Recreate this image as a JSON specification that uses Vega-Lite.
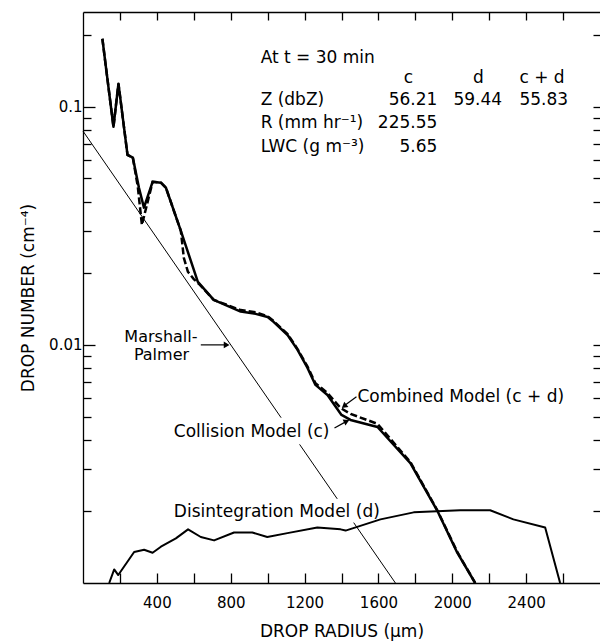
{
  "$schema": "https://vega.github.io/schema/vega-lite/v6.json",
  "width": 517,
  "height": 571,
  "autosize": {"type": "none"},
  "padding": {"left": 83, "top": 12, "right": 0, "bottom": 59},
  "background": "white",
  "config": {
    "view": {"stroke": null},
    "font": "DejaVu Sans",
    "axis": {
      "grid": false,
      "domainColor": "black",
      "tickColor": "black",
      "labelColor": "black",
      "titleColor": "black",
      "labelFont": "DejaVu Sans",
      "titleFont": "DejaVu Sans",
      "titleFontWeight": "normal",
      "labelFontSize": 15,
      "titleFontSize": 17,
      "domainWidth": 1.3,
      "tickWidth": 1.3
    }
  },
  "datasets": {
    "curves": [
      {"series": "MP", "seg": 1, "r": 0, "n": 0.079},
      {"series": "MP", "seg": 1, "r": 1073, "n": 0.004945},
      {"series": "MP", "seg": 2, "r": 1173, "n": 0.003821},
      {"series": "MP", "seg": 2, "r": 1377, "n": 0.002256},
      {"series": "MP", "seg": 3, "r": 1466, "n": 0.001793},
      {"series": "MP", "seg": 3, "r": 1692, "n": 0.001},

      {"series": "c", "seg": 1, "r": 105, "n": 0.193},
      {"series": "c", "seg": 1, "r": 124, "n": 0.147},
      {"series": "c", "seg": 1, "r": 165, "n": 0.0824},
      {"series": "c", "seg": 1, "r": 192, "n": 0.125},
      {"series": "c", "seg": 1, "r": 241, "n": 0.0628},
      {"series": "c", "seg": 1, "r": 270, "n": 0.0611},
      {"series": "c", "seg": 1, "r": 303, "n": 0.0457},
      {"series": "c", "seg": 1, "r": 330, "n": 0.0377},
      {"series": "c", "seg": 1, "r": 377, "n": 0.0484},
      {"series": "c", "seg": 1, "r": 422, "n": 0.048},
      {"series": "c", "seg": 1, "r": 449, "n": 0.0457},
      {"series": "c", "seg": 1, "r": 530, "n": 0.0301},
      {"series": "c", "seg": 1, "r": 622, "n": 0.0184},
      {"series": "c", "seg": 1, "r": 708, "n": 0.01545},
      {"series": "c", "seg": 1, "r": 854, "n": 0.0138},
      {"series": "c", "seg": 1, "r": 935, "n": 0.0135},
      {"series": "c", "seg": 1, "r": 1000, "n": 0.0131},
      {"series": "c", "seg": 1, "r": 1032, "n": 0.0125},
      {"series": "c", "seg": 1, "r": 1108, "n": 0.011},
      {"series": "c", "seg": 1, "r": 1162, "n": 0.00953},
      {"series": "c", "seg": 1, "r": 1216, "n": 0.008},
      {"series": "c", "seg": 1, "r": 1259, "n": 0.00679},
      {"series": "c", "seg": 1, "r": 1324, "n": 0.00616},
      {"series": "c", "seg": 1, "r": 1400, "n": 0.00508},
      {"series": "c", "seg": 1, "r": 1449, "n": 0.00484},
      {"series": "c", "seg": 1, "r": 1595, "n": 0.00452},
      {"series": "c", "seg": 1, "r": 1773, "n": 0.00319},
      {"series": "c", "seg": 1, "r": 1919, "n": 0.00201},
      {"series": "c", "seg": 1, "r": 2027, "n": 0.00134},
      {"series": "c", "seg": 1, "r": 2124, "n": 0.001},

      {"series": "cd", "seg": 1, "r": 105, "n": 0.193},
      {"series": "cd", "seg": 1, "r": 124, "n": 0.147},
      {"series": "cd", "seg": 1, "r": 165, "n": 0.0824},
      {"series": "cd", "seg": 1, "r": 192, "n": 0.125},
      {"series": "cd", "seg": 1, "r": 241, "n": 0.0628},
      {"series": "cd", "seg": 1, "r": 270, "n": 0.0611},
      {"series": "cd", "seg": 1, "r": 297, "n": 0.046},
      {"series": "cd", "seg": 1, "r": 319, "n": 0.0319},
      {"series": "cd", "seg": 1, "r": 377, "n": 0.0484},
      {"series": "cd", "seg": 1, "r": 422, "n": 0.048},
      {"series": "cd", "seg": 1, "r": 449, "n": 0.0457},
      {"series": "cd", "seg": 1, "r": 530, "n": 0.0301},
      {"series": "cd", "seg": 1, "r": 546, "n": 0.0232},
      {"series": "cd", "seg": 1, "r": 568, "n": 0.0203},
      {"series": "cd", "seg": 1, "r": 600, "n": 0.0189},
      {"series": "cd", "seg": 1, "r": 632, "n": 0.0179},
      {"series": "cd", "seg": 1, "r": 708, "n": 0.01545},
      {"series": "cd", "seg": 1, "r": 854, "n": 0.014},
      {"series": "cd", "seg": 1, "r": 935, "n": 0.0137},
      {"series": "cd", "seg": 1, "r": 1000, "n": 0.0132},
      {"series": "cd", "seg": 1, "r": 1032, "n": 0.0126},
      {"series": "cd", "seg": 1, "r": 1108, "n": 0.0111},
      {"series": "cd", "seg": 1, "r": 1162, "n": 0.0096},
      {"series": "cd", "seg": 1, "r": 1216, "n": 0.0081},
      {"series": "cd", "seg": 1, "r": 1259, "n": 0.0069},
      {"series": "cd", "seg": 1, "r": 1324, "n": 0.00628},
      {"series": "cd", "seg": 1, "r": 1395, "n": 0.00543},
      {"series": "cd", "seg": 1, "r": 1449, "n": 0.00513},
      {"series": "cd", "seg": 1, "r": 1595, "n": 0.00466},
      {"series": "cd", "seg": 1, "r": 1773, "n": 0.00322},
      {"series": "cd", "seg": 1, "r": 1919, "n": 0.00202},
      {"series": "cd", "seg": 1, "r": 2027, "n": 0.00135},
      {"series": "cd", "seg": 1, "r": 2124, "n": 0.001},

      {"series": "d", "seg": 1, "r": 142, "n": 0.001},
      {"series": "d", "seg": 1, "r": 169, "n": 0.00114},
      {"series": "d", "seg": 1, "r": 191, "n": 0.00108},
      {"series": "d", "seg": 1, "r": 277, "n": 0.00135},
      {"series": "d", "seg": 1, "r": 331, "n": 0.00138},
      {"series": "d", "seg": 1, "r": 377, "n": 0.00134},
      {"series": "d", "seg": 1, "r": 422, "n": 0.00142},
      {"series": "d", "seg": 1, "r": 503, "n": 0.00154},
      {"series": "d", "seg": 1, "r": 569, "n": 0.00168},
      {"series": "d", "seg": 1, "r": 638, "n": 0.00156},
      {"series": "d", "seg": 1, "r": 710, "n": 0.00151},
      {"series": "d", "seg": 1, "r": 818, "n": 0.00163},
      {"series": "d", "seg": 1, "r": 917, "n": 0.00163},
      {"series": "d", "seg": 1, "r": 998, "n": 0.00156},
      {"series": "d", "seg": 1, "r": 1107, "n": 0.00162},
      {"series": "d", "seg": 1, "r": 1269, "n": 0.00171},
      {"series": "d", "seg": 1, "r": 1395, "n": 0.00168},
      {"series": "d", "seg": 1, "r": 1422, "n": 0.00166},
      {"series": "d", "seg": 1, "r": 1611, "n": 0.00185},
      {"series": "d", "seg": 1, "r": 1791, "n": 0.00198},
      {"series": "d", "seg": 1, "r": 2043, "n": 0.00202},
      {"series": "d", "seg": 1, "r": 2205, "n": 0.00202},
      {"series": "d", "seg": 1, "r": 2331, "n": 0.00185},
      {"series": "d", "seg": 1, "r": 2503, "n": 0.00171},
      {"series": "d", "seg": 1, "r": 2584, "n": 0.001},

      {"series": "lead", "seg": 1, "r": 638, "n": 0.01},
      {"series": "lead", "seg": 1, "r": 775, "n": 0.01},
      {"series": "lead", "seg": 2, "r": 1481, "n": 0.00605},
      {"series": "lead", "seg": 2, "r": 1422, "n": 0.0056},
      {"series": "lead", "seg": 3, "r": 1362, "n": 0.00448},
      {"series": "lead", "seg": 3, "r": 1422, "n": 0.00475}
    ],
    "heads": [
      {"id": "mp", "r": 778, "n": 0.01},
      {"id": "cd", "r": 1414, "n": 0.00553},
      {"id": "c", "r": 1428, "n": 0.00478}
    ],
    "texts": [
      {"pos": "left", "label": "At t = 30 min", "r": 962, "n": 0.1607},
      {"pos": "left", "label": "Z (dbZ)", "r": 962, "n": 0.107},
      {"pos": "left", "label": "R (mm hr⁻¹)", "r": 962, "n": 0.0857},
      {"pos": "left", "label": "LWC (g m⁻³)", "r": 962, "n": 0.0679},
      {"pos": "right", "label": "56.21", "r": 1919, "n": 0.107},
      {"pos": "right", "label": "59.44", "r": 2270, "n": 0.107},
      {"pos": "right", "label": "55.83", "r": 2627, "n": 0.107},
      {"pos": "right", "label": "225.55", "r": 1919, "n": 0.0857},
      {"pos": "right", "label": "5.65", "r": 1919, "n": 0.0679},
      {"pos": "center", "label": "c", "r": 1762, "n": 0.1324},
      {"pos": "center", "label": "d", "r": 2141, "n": 0.1324},
      {"pos": "center", "label": "c + d", "r": 2486, "n": 0.1324}
    ],
    "notes": [
      {"pos": "left", "label": "Collision Model (c)", "r": 492, "n": 0.00431},
      {"pos": "left", "label": "Combined Model (c + d)", "r": 1486, "n": 0.00605},
      {"pos": "left", "label": "Disintegration Model (d)", "r": 492, "n": 0.001987},
      {"pos": "center", "label": "Marshall-", "r": 422, "n": 0.0108},
      {"pos": "center", "label": "Palmer", "r": 425, "n": 0.00908}
    ]
  },
  "resolve": {"axis": {"x": "independent", "y": "independent"}},
  "layer": [
    {
      "data": {"name": "curves"},
      "transform": [{"filter": "datum.series == 'MP'"}],
      "mark": {"type": "line", "color": "black", "strokeWidth": 1},
      "encoding": {
        "x": {"field": "r", "type": "quantitative", "scale": {"domain": [0, 2800], "nice": false, "zero": false}, "axis": null},
        "y": {"field": "n", "type": "quantitative", "scale": {"type": "log", "domain": [0.001, 0.25], "nice": false}, "axis": null},
        "detail": {"field": "seg"},
        "order": {"field": "r"}
      }
    },
    {
      "data": {"name": "curves"},
      "transform": [{"filter": "datum.series == 'c'"}],
      "mark": {"type": "line", "color": "black", "strokeWidth": 2.5, "strokeJoin": "round"},
      "encoding": {
        "x": {"field": "r", "type": "quantitative", "scale": {"domain": [0, 2800], "nice": false, "zero": false},
          "axis": {"orient": "bottom", "values": [200, 400, 600, 800, 1000, 1200, 1400, 1600, 1800, 2000, 2200, 2400, 2600],
            "format": "d", "labelExpr": "datum.value % 400 == 0 ? datum.label : ''", "tickSize": -10, "labelPadding": 22,
            "labelFlush": false, "title": "DROP RADIUS (μm)", "titlePadding": 13}},
        "y": {"field": "n", "type": "quantitative", "scale": {"type": "log", "domain": [0.001, 0.25], "nice": false},
          "axis": {"orient": "left", "values": [0.002, 0.003, 0.004, 0.005, 0.006, 0.007, 0.008, 0.009, 0.01, 0.02, 0.03, 0.04, 0.05, 0.06, 0.07, 0.08, 0.09, 0.1, 0.2],
            "labelExpr": "datum.value == 0.1 ? '0.1' : (datum.value == 0.01 ? '0.01' : '')",
            "tickSize": {"condition": {"test": "datum.value == 0.1 || datum.value == 0.01", "value": -12}, "value": -8},
            "labelPadding": 13,
            "labelFlush": false, "title": "DROP NUMBER (cm⁻⁴)", "titlePadding": 11}},
        "order": {"field": "r"}
      }
    },
    {
      "data": {"name": "curves"},
      "transform": [{"filter": "datum.series == 'cd'"}],
      "mark": {"type": "line", "color": "black", "strokeWidth": 2.5, "strokeDash": [7, 3]},
      "encoding": {
        "x": {"field": "r", "type": "quantitative", "scale": {"domain": [0, 2800], "nice": false, "zero": false},
          "axis": {"orient": "top", "values": [200, 400, 600, 800, 1000, 1200, 1400, 1600, 1800, 2000, 2200, 2400, 2600],
            "labels": false, "tickSize": -8, "title": null}},
        "y": {"field": "n", "type": "quantitative", "scale": {"type": "log", "domain": [0.001, 0.25], "nice": false},
          "axis": {"orient": "right", "values": [0.002, 0.003, 0.004, 0.005, 0.006, 0.007, 0.008, 0.009, 0.01, 0.02, 0.03, 0.04, 0.05, 0.06, 0.07, 0.08, 0.09, 0.1, 0.2],
            "labels": false, "tickSize": -7, "domain": false, "title": null}},
        "order": {"field": "r"}
      }
    },
    {
      "data": {"name": "curves"},
      "transform": [{"filter": "datum.series == 'd'"}],
      "mark": {"type": "line", "color": "black", "strokeWidth": 2, "strokeJoin": "round"},
      "encoding": {
        "x": {"field": "r", "type": "quantitative", "axis": null},
        "y": {"field": "n", "type": "quantitative", "scale": {"type": "log"}, "axis": null},
        "order": {"field": "r"}
      }
    },
    {
      "data": {"name": "curves"},
      "transform": [{"filter": "datum.series == 'lead'"}],
      "mark": {"type": "line", "color": "black", "strokeWidth": 1.2},
      "encoding": {
        "x": {"field": "r", "type": "quantitative", "axis": null},
        "y": {"field": "n", "type": "quantitative", "scale": {"type": "log"}, "axis": null},
        "detail": {"field": "seg"}
      }
    },
    {
      "data": {"name": "heads"},
      "transform": [{"filter": "datum.id == 'mp'"}],
      "mark": {"type": "point", "shape": "triangle-right", "filled": true, "color": "black", "size": 45, "opacity": 1},
      "encoding": {
        "x": {"field": "r", "type": "quantitative", "axis": null},
        "y": {"field": "n", "type": "quantitative", "scale": {"type": "log"}, "axis": null}
      }
    },
    {
      "data": {"name": "heads"},
      "transform": [{"filter": "datum.id == 'cd'"}],
      "mark": {"type": "point", "shape": "triangle-right", "filled": true, "color": "black", "size": 45, "opacity": 1, "angle": 141},
      "encoding": {
        "x": {"field": "r", "type": "quantitative", "axis": null},
        "y": {"field": "n", "type": "quantitative", "scale": {"type": "log"}, "axis": null}
      }
    },
    {
      "data": {"name": "heads"},
      "transform": [{"filter": "datum.id == 'c'"}],
      "mark": {"type": "point", "shape": "triangle-right", "filled": true, "color": "black", "size": 45, "opacity": 1, "angle": 335},
      "encoding": {
        "x": {"field": "r", "type": "quantitative", "axis": null},
        "y": {"field": "n", "type": "quantitative", "scale": {"type": "log"}, "axis": null}
      }
    },
    {
      "data": {"name": "texts"},
      "transform": [{"filter": "datum.pos == 'left'"}],
      "mark": {"type": "text", "align": "left", "baseline": "middle", "fontSize": 17, "font": "DejaVu Sans", "color": "black"},
      "encoding": {
        "x": {"field": "r", "type": "quantitative", "axis": null},
        "y": {"field": "n", "type": "quantitative", "scale": {"type": "log"}, "axis": null},
        "text": {"field": "label"}
      }
    },
    {
      "data": {"name": "texts"},
      "transform": [{"filter": "datum.pos == 'right'"}],
      "mark": {"type": "text", "align": "right", "baseline": "middle", "fontSize": 17, "font": "DejaVu Sans", "color": "black"},
      "encoding": {
        "x": {"field": "r", "type": "quantitative", "axis": null},
        "y": {"field": "n", "type": "quantitative", "scale": {"type": "log"}, "axis": null},
        "text": {"field": "label"}
      }
    },
    {
      "data": {"name": "texts"},
      "transform": [{"filter": "datum.pos == 'center'"}],
      "mark": {"type": "text", "align": "center", "baseline": "middle", "fontSize": 17, "font": "DejaVu Sans", "color": "black"},
      "encoding": {
        "x": {"field": "r", "type": "quantitative", "axis": null},
        "y": {"field": "n", "type": "quantitative", "scale": {"type": "log"}, "axis": null},
        "text": {"field": "label"}
      }
    },
    {
      "data": {"name": "notes"},
      "transform": [{"filter": "datum.pos == 'left'"}],
      "mark": {"type": "text", "align": "left", "baseline": "middle", "fontSize": 17, "font": "DejaVu Sans", "color": "black"},
      "encoding": {
        "x": {"field": "r", "type": "quantitative", "axis": null},
        "y": {"field": "n", "type": "quantitative", "scale": {"type": "log"}, "axis": null},
        "text": {"field": "label"}
      }
    },
    {
      "data": {"name": "notes"},
      "transform": [{"filter": "datum.pos == 'center'"}],
      "mark": {"type": "text", "align": "center", "baseline": "middle", "fontSize": 16, "font": "DejaVu Sans", "color": "black"},
      "encoding": {
        "x": {"field": "r", "type": "quantitative", "axis": null},
        "y": {"field": "n", "type": "quantitative", "scale": {"type": "log"}, "axis": null},
        "text": {"field": "label"}
      }
    }
  ]
}
